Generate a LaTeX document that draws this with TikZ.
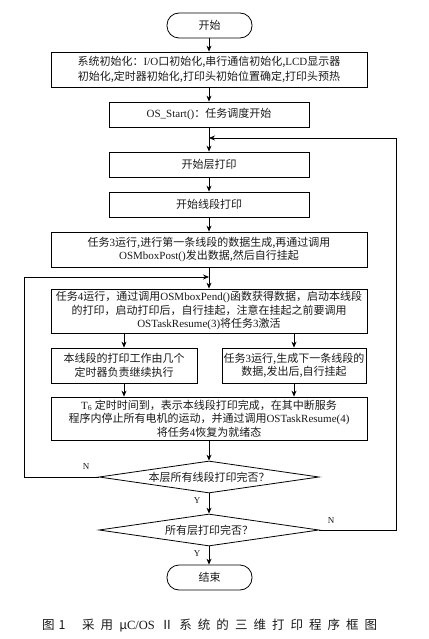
\documentclass[tikz,border=0pt]{standalone}
\usepackage{fontspec}
\setmainfont{Noto Sans CJK SC}
\newfontfamily\lat{Liberation Serif}
\newcommand\ltn[1]{{\lat #1}}
\usetikzlibrary{shapes.geometric,arrows.meta}
\begin{document}
\begin{tikzpicture}[x=1pt,y=-1pt,
  every node/.style={inner sep=0pt, text=black!90},
  box/.style={draw=black, line width=0.8pt, align=center, font=\fontsize{11}{13.5}\selectfont},
  term/.style={draw=black, line width=0.8pt, rounded corners=12pt, minimum width=85pt, minimum height=25pt, font=\fontsize{11}{13.5}\selectfont},
  dec/.style={draw=black, line width=0.8pt, diamond, aspect=6.875, inner sep=0pt, minimum width=220pt, minimum height=32pt, font=\fontsize{11}{13.5}\selectfont},
  arr/.style={draw=black, line width=0.8pt, -{Stealth[length=6pt,width=5pt]}},
  lbl/.style={font=\lat\fontsize{9}{10}\selectfont}
]
\useasboundingbox (0,0) rectangle (428,639);
\node[term] (start) at (209.5,25.5) {开始};
\node[box, minimum width=316pt, minimum height=35pt, font=\fontsize{11}{15}\selectfont] (init) at (209,69.5)
  {系统初始化：\ltn{I/O}口初始化,串行通信初始化,\ltn{LCD}显示器\\初始化,定时器初始化,打印头初始位置确定,打印头预热};
\node[box, minimum width=200pt, minimum height=25pt] (os) at (209,114.5) {\ltn{OS\_Start()}：任务调度开始};
\node[box, minimum width=200pt, minimum height=25pt] (layer) at (209,164.5) {开始层打印};
\node[box, minimum width=200pt, minimum height=25pt] (seg) at (209,204.5) {开始线段打印};
\node[box, minimum width=316pt, minimum height=35pt] (t3) at (209,249.5)
  {任务\ltn{3}运行,进行第一条线段的数据生成,再通过调用\\\ltn{OSMboxPost()}发出数据,然后自行挂起};
\node[box, minimum width=316pt, minimum height=44pt] (t4) at (209,311)
  {任务\ltn{4}运行，通过调用\ltn{OSMboxPend()}函数获得数据，启动本线段\\的打印，启动打印后，自行挂起，注意在挂起之前要调用\\\ltn{OSTaskResume(3)}将任务\ltn{3}激活};
\node[box, minimum width=146pt, minimum height=35pt] (lt) at (124,365.5)
  {本线段的打印工作由几个\\定时器负责继续执行};
\node[box, minimum width=144pt, minimum height=35pt] (rt) at (294,365.5)
  {任务\ltn{3}运行,生成下一条线段的\\数据,发出后,自行挂起};
\node[box, minimum width=316pt, minimum height=43pt] (t6) at (209,418.5)
  {\ltn{T\textsubscript{6}} 定时时间到，表示本线段打印完成，在其中断服务\\程序内停止所有电机的运动，并通过调用\ltn{OSTaskResume(4)}\\将任务\ltn{4}恢复为就绪态};
\node[dec] (d1) at (209,477) {本层所有线段打印完否？};
\node[dec] (d2) at (209,530) {所有层打印完否？};
\node[term] (end) at (209.5,577.5) {结束};

\coordinate (j1) at (209,277);
\coordinate (j2) at (209,138);

\draw[arr] (start.south -| init.north) -- (init.north);
\draw[arr] (init) -- (os);
\draw[arr] (os) -- (layer);
\draw[arr] (layer) -- (seg);
\draw[arr] (seg) -- (t3);
\draw[arr] (t3) -- (t4);
\draw[arr] (lt.north |- t4.south) -- (lt.north);
\draw[arr] (rt.north |- t4.south) -- (rt.north);
\draw[arr] (lt.south) -- (lt.south |- t6.north);
\draw[arr] (rt.south) -- (rt.south |- t6.north);
\draw[arr] (t6) -- (d1);
\draw[arr] (d1) -- (d2);
\draw[arr] (d2.south) -- (end.north -| d2.south);
\draw[arr] (d1.west) -- ++(-74,0) |- (j1);
\draw[arr] (d2.east) -- ++(77,0) |- (j2);

\node[lbl] (n1) at (86,467) {N};
\node[lbl] (y1) at (197,501) {Y};
\node[lbl] (n2) at (331,521) {N};
\node[lbl] (y2) at (197,554) {Y};

\node[anchor=west, font=\fontsize{12.5}{14}\selectfont] (cap1) at (42,625) {图\hspace{4pt}1};
\node[anchor=west, font=\fontsize{12.5}{14}\selectfont] (cap2) at (82,625)
  {\hbox to 295pt{采\hfill 用\hfill μ\ltn{C/OS}\hfill Ⅱ\hfill 系\hfill 统\hfill 的\hfill 三\hfill 维\hfill 打\hfill 印\hfill 程\hfill 序\hfill 框\hfill 图}};
\end{tikzpicture}
\end{document}
